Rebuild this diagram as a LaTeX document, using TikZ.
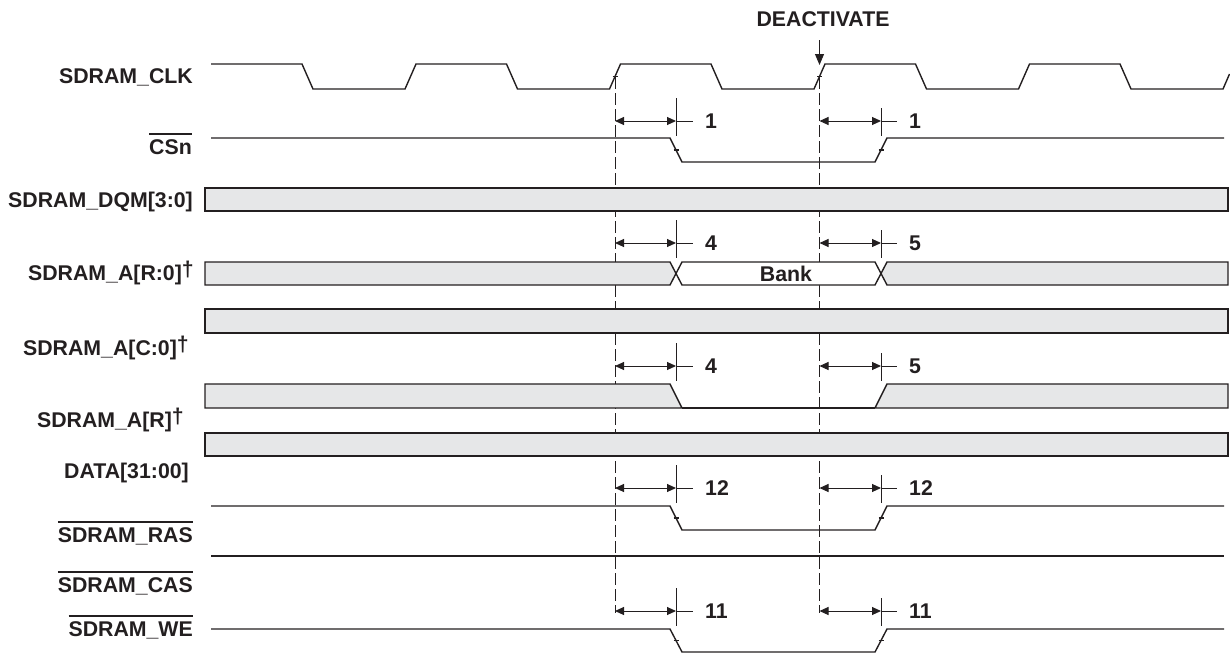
\documentclass[tikz,border=0pt]{standalone}
\usepackage{fontspec}
\setmainfont{Liberation Sans}
\usepackage{tikz}
\usetikzlibrary{
  arrows.meta,
  positioning
}
\definecolor{tdInk}{HTML}{231F20}
\definecolor{tdBus}{HTML}{E6E7E8}
\newcommand{\tdfont}{\fontsize{21.3}{25}\selectfont\bfseries}
\newcommand{\olbl}[1]{\setbox0\hbox{#1}\rlap{\rule[19.5pt]{\wd0}{1.5pt}}\box0}
\newcommand{\dg}{\raisebox{4pt}{\textdagger}}
\tikzset{
  sig/.style={draw=tdInk, line width=1.4pt, line join=miter},
  bus/.style={draw=tdInk, fill=tdBus, line width=1.4pt},
  buswhite/.style={draw=tdInk, fill=white, line width=1.4pt},
  refline/.style={draw=tdInk, line width=1pt, dash pattern=on 12pt off 4pt},
  tickline/.style={draw=tdInk, line width=1pt},
  dimline/.style={{Triangle[length=9pt,width=8pt]}-{Triangle[length=9pt,width=8pt]}, draw=tdInk, fill=tdInk, line width=1pt},
  edgemark/.style={draw=tdInk, line width=1.6pt},
  callout/.style={-{Triangle[length=11pt,width=9pt]}, draw=tdInk, line width=1pt},
  siglabel/.style={font=\tdfont, text=tdInk, inner sep=0pt, anchor=base east},
  dimlabel/.style={font=\tdfont, text=tdInk, inner sep=0pt, anchor=base west}
}

\begin{document}
\begin{tikzpicture}[x=1pt, y=-1pt]
  \useasboundingbox (0,0) rectangle (1230,653);

  % signal names
  \node[siglabel] (lclk) at (193,83) {SDRAM\_CLK};
  \node[siglabel] (lcs) at (192,154) {\olbl{CSn}};
  \node[siglabel] (ldqm) at (193,207.5) {SDRAM\_DQM[3:0]};
  \node[siglabel] (larow) at (194,280) {SDRAM\_A[R:0]\dg};
  \node[siglabel] (lacol) at (189,355) {SDRAM\_A[C:0]\dg};
  \node[siglabel] (lar) at (184,427) {SDRAM\_A[R]\dg};
  \node[siglabel] (ldata) at (189,478.5) {DATA[31:00]};
  \node[siglabel] (lras) at (193,542) {\olbl{SDRAM\_RAS}};
  \node[siglabel] (lcas) at (193,592) {\olbl{SDRAM\_CAS}};
  \node[siglabel] (lwe) at (193,636) {\olbl{SDRAM\_WE}};

  % reference lines
  \coordinate (refA) at (615,77);
  \coordinate (refB) at (819.5,77);
  \coordinate (refAend) at (615,613);
  \coordinate (refBend) at (819.5,613);
  \draw[refline] (refA) -- (refAend);
  \draw[refline] (refB) -- (refBend);

  % deactivate callout
  \node[font=\tdfont, text=tdInk, inner sep=0pt, anchor=base] (deact) at (823,26) {DEACTIVATE};
  \coordinate (deactTip) at (819.5,65);
  \draw[callout] (819.5,40) -- (deactTip);

  % clock
  \draw[sig] (211,64)
    foreach \k in {0,...,3} {
      -- ({302+204.5*\k},64) -- ({313+204.5*\k},89)
      -- ({405+204.5*\k},89) -- ({416+204.5*\k},64)
    }
    -- (1120,64) -- (1131,89) -- (1223,89) -- (1229.5,74);

  % CSn
  \draw[sig] (211,138) -- (670,138) -- (682,162) -- (875,162) -- (887,138) -- (1224,138);

  % DQM
  \draw[bus] (205,188) rectangle (1228,211);

  % A[R:0] with bank
  \draw[bus] (205,262) -- (670,262) -- (676,273.5) -- (670,285) -- (205,285) -- cycle;
  \draw[buswhite] (676,273.5) -- (682,262) -- (875,262) -- (881,273.5) -- (875,285) -- (682,285) -- cycle;
  \draw[bus] (881,273.5) -- (887,262) -- (1228,262) -- (1228,285) -- (887,285) -- cycle;
  \node[font=\tdfont, text=tdInk, inner sep=0pt, anchor=base] (bank) at (786,281) {Bank};

  % A[C:0]
  \draw[bus] (205,309) rectangle (1228,333);

  % A[R]
  \draw[bus] (205,384) -- (670,384) -- (682,408) -- (205,408) -- cycle;
  \draw[sig] (682,408) -- (875,408);
  \draw[bus] (875,408) -- (887,384) -- (1228,384) -- (1228,408) -- cycle;

  % DATA
  \draw[bus] (205,433) rectangle (1228,456);

  % RAS, CAS, WE
  \draw[sig] (211,506) -- (670,506) -- (682,530) -- (875,530) -- (887,506) -- (1224,506);
  \draw[sig] (211,556) -- (1224,556);
  \draw[sig] (211,629) -- (670,629) -- (682,652) -- (875,652) -- (887,629) -- (1224,629);

  % edge marks
  \foreach \ex/\ey in {615/76.5, 819.5/76.5, 676/150, 881/150, 676/518, 881/518, 676/640.5, 881/640.5}
    \draw[edgemark] (\ex-2.5,\ey) -- (\ex+2.5,\ey);

  % timing parameters
  \foreach \yy/\la/\lb in {121/1/1, 243/4/5, 366/4/5, 488/12/12, 611/11/11} {
    \draw[tickline] (676,\yy-23) -- (676,\yy+15);
    \draw[tickline] (881,\yy-13) -- (881,\yy+15);
    \coordinate (dA) at (615,\yy);
    \coordinate (dB) at (676,\yy);
    \coordinate (dC) at (819.5,\yy);
    \coordinate (dD) at (881,\yy);
    \draw[dimline] (dA) -- (dB);
    \draw[tickline] (dB) -- (693,\yy);
    \draw[dimline] (dC) -- (dD);
    \draw[tickline] (dD) -- (897,\yy);
    \node[dimlabel] at (705,\yy+7.5) {\la};
    \node[dimlabel] at (909,\yy+7.5) {\lb};
  }
\end{tikzpicture}
\end{document}
